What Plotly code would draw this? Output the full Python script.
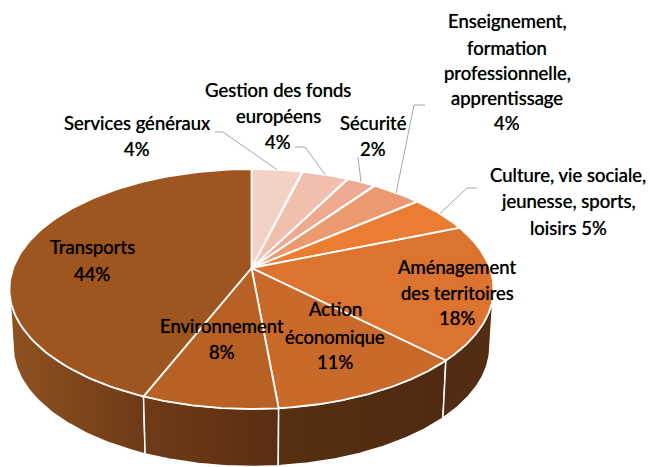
import numpy as np
import plotly.graph_objects as go

# Data: clockwise from 12 o'clock
categories = ["Services généraux", "Gestion des fonds européens", "Sécurité",
              "Enseignement, formation professionnelle, apprentissage",
              "Culture, vie sociale, jeunesse, sports, loisirs",
              "Aménagement des territoires", "Action économique",
              "Environnement", "Transports"]
values = [4.0, 3.7, 2.3, 4.0, 5.0, 18.3, 11.2, 7.7, 43.8]
percent_labels = ["4%", "4%", "2%", "4%", "5%", "18%", "11%", "8%", "44%"]
colors = ["#f3d1c5", "#f1bfae", "#eeaa90", "#eb9a70", "#ea7d31",
          "#dc7430", "#c96a2a", "#b86124", "#9e551f"]

# Style / layout constants
CX, CY = 251.5, 268.0      # pixel of pie centre (perspective)
A, B, K = 116.3, 238.3, 0.175
DEPTH, BOTTOM_SCALE = 57.5, 0.985
FONT = "Lato"
FS = 18.5

label_lines = {
    "Services généraux": (["Services généraux", percent_labels[0]], 137, [123, 149]),
    "Gestion des fonds européens": (["Gestion des fonds", "européens", percent_labels[1]], 278, [90, 116, 142]),
    "Sécurité": (["Sécurité", percent_labels[2]], 373, [123, 149]),
    "Enseignement": (["Enseignement,", "formation", "professionnelle,", "apprentissage", percent_labels[3]], 507, [21, 48, 73, 98, 123]),
    "Culture": (["Culture, vie sociale,", "jeunesse, sports,", "loisirs " + percent_labels[4]], 568, [175, 201, 228]),
    "Aménagement": (["Aménagement", "des territoires", percent_labels[5]], 457, [267, 293, 318]),
    "Action": (["Action", "économique", percent_labels[6]], 335, [309, 337, 362]),
    "Environnement": (["Environnement", percent_labels[7]], 222, [326, 352]),
    "Transports": (["Transports", percent_labels[8]], 92, [247, 274]),
}
# index of slice, knee points of the leader (pixel)
leaders = [
    (0, [(215, 132), (223, 132)]),
    (1, [(295, 147), (305, 147)]),
    (2, [(358, 157)]),
    (3, [(425, 105), (414, 105)]),
    (4, [(477, 188), (467, 188)]),
]
wall_gradients = {
    8: ("#8f5220", "#6d3a17"),
    7: ("#703b17", "#5a2e12"),
    6: ("#56300f", "#4f2a12"),
    5: ("#522c13", "#522c13"),
}


def project(theta):
    """Angle (radians clockwise from 12 o'clock) on the pie -> pixel."""
    w = 1 + K * np.cos(theta)
    return CX + B * np.sin(theta) / w, CY - A * np.cos(theta) / w


fracs = np.cumsum([0] + values) / sum(values) * 2 * np.pi
fig = go.Figure()

# Side wall (only the part facing the viewer)
t_right = np.arccos(-K)
t_left = 2 * np.pi - t_right
for i, (c0, c1) in wall_gradients.items():
    a0, a1 = max(fracs[i], t_right), min(fracs[i + 1], t_left)
    t = np.linspace(a0, a1, 80)
    x, y = project(t)
    xb = CX + (x - CX) * BOTTOM_SCALE
    yb = y + DEPTH
    fig.add_trace(go.Scatter(
        x=np.r_[x, xb[::-1], x[0]], y=np.r_[y, yb[::-1], y[0]],
        mode="lines", fill="toself", line=dict(color="white", width=1.5),
        fillgradient=dict(type="horizontal", colorscale=[[0, c0], [1, c1]]),
        hoverinfo="skip", showlegend=False))

# Top slices
for i, name in enumerate(categories):
    t = np.linspace(fracs[i], fracs[i + 1], 120)
    x, y = project(t)
    fig.add_trace(go.Scatter(
        x=np.r_[CX, x, CX], y=np.r_[CY, y, CY], mode="lines", fill="toself",
        fillcolor=colors[i], line=dict(color="white", width=1.8),
        name=name, text=percent_labels[i], hoverinfo="name+text", showlegend=False))

# Leader lines
for i, knees in leaders:
    mid = (fracs[i] + fracs[i + 1]) / 2
    px, py = project(mid)
    fig.add_trace(go.Scatter(
        x=[k[0] for k in knees] + [float(px)], y=[k[1] for k in knees] + [float(py)],
        mode="lines", line=dict(color="#a6a6a6", width=1),
        hoverinfo="skip", showlegend=False))

# Labels, one annotation per line (reference line pitch is wider than Plotly's)
annotations = []
for lines, xc, ys in label_lines.values():
    for txt, yc in zip(lines, ys):
        annotations.append(dict(x=xc, y=yc, text=txt, showarrow=False,
                                xanchor="center", yanchor="middle",
                                font=dict(family=FONT, size=FS, color="#000000",
                                          shadow="0 0 0.7px rgba(0,0,0,0.8)")))

fig.update_layout(
    width=650, height=467, margin=dict(l=0, r=0, t=0, b=0),
    paper_bgcolor="white", plot_bgcolor="white", showlegend=False,
    xaxis=dict(range=[0, 650], visible=False, fixedrange=True),
    yaxis=dict(range=[467, 0], visible=False, fixedrange=True),
    annotations=annotations,
)
fig.write_html("out.html", config=dict(displayModeBar=False),
               post_script="document.body.style.margin='0';document.documentElement.style.overflow='hidden';")
